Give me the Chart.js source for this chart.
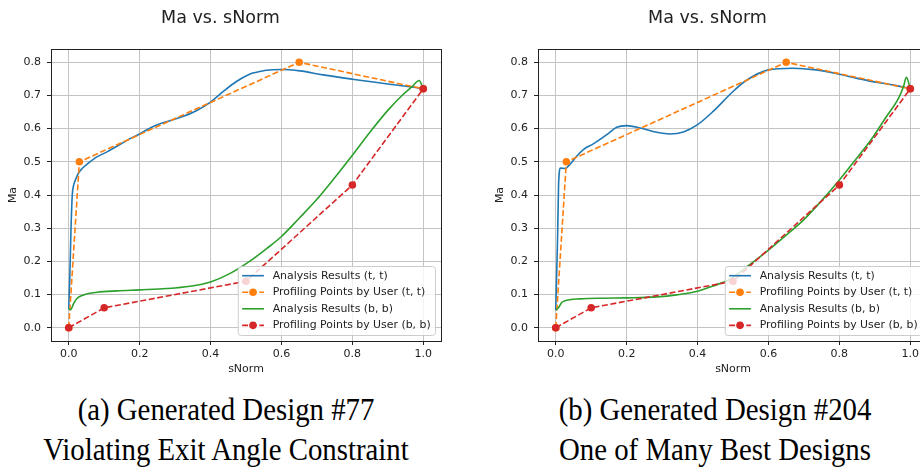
<!DOCTYPE html>
<html>
<head>
<meta charset="utf-8">
<script src="https://cdn.jsdelivr.net/npm/chart.js@4.4.1/dist/chart.umd.min.js"></script>
<style>
  html, body { margin: 0; padding: 0; background: #fff; width: 920px; height: 468px; overflow: hidden; }
  .plot { position: absolute; top: 0; width: 479px; height: 380px; }
  .caption { position: absolute; font-family: 'Liberation Serif', 'Times New Roman', serif; font-size: 32px; line-height: 40px; text-align: center; color: #000; white-space: nowrap; transform: scaleX(0.9); transform-origin: center top; }
</style>
</head>
<body>
<div class="plot" style="left:0"><canvas id="chart77" width="479" height="380"></canvas></div>
<div class="plot" style="left:487px"><canvas id="chart204" width="479" height="380"></canvas></div>
<div class="caption" style="left:0; width:452px; top:389px">(a) Generated Design #77<br>Violating Exit Angle Constraint</div>
<div class="caption" style="left:510px; width:410px; top:389px">(b) Generated Design #204<br>One of Many Best Designs</div>

<script>
// axis ticks
const xTicks = [0, 0.2, 0.4, 0.6, 0.8, 1.0];
const yTicks = [0, 0.1, 0.2, 0.3, 0.4, 0.5, 0.6, 0.7, 0.8];

// profiling points by user (same in both designs)
const userTopX = [0, 0.03, 0.65, 1.0];
const userTopY = [0, 0.5, 0.8, 0.72];
const userBotX = [0, 0.1, 0.5, 0.8, 1.0];
const userBotY = [0, 0.06, 0.14, 0.43, 0.72];

// design #77 analysis results
const d77TopX = [0, 0.003, 0.0065, 0.01, 0.014, 0.02, 0.028, 0.04, 0.052, 0.075, 0.108, 0.136, 0.173, 0.2, 0.23, 0.25, 0.286, 0.323, 0.36, 0.4, 0.436, 0.473, 0.51, 0.53, 0.558, 0.6, 0.652, 0.717, 0.8, 0.905, 0.99, 1.0];
const d77TopY = [0.057, 0.15, 0.3, 0.4, 0.43, 0.448, 0.467, 0.482, 0.493, 0.512, 0.53, 0.547, 0.57, 0.584, 0.602, 0.612, 0.624, 0.637, 0.654, 0.68, 0.712, 0.742, 0.764, 0.77, 0.776, 0.778, 0.774, 0.762, 0.749, 0.734, 0.722, 0.72];
const d77BotX = [0, 0.005, 0.014, 0.023, 0.042, 0.08, 0.136, 0.2, 0.276, 0.342, 0.4, 0.454, 0.51, 0.56, 0.6, 0.65, 0.7, 0.75, 0.8, 0.85, 0.9, 0.94, 0.97, 0.988, 1.0];
const d77BotY = [0.057, 0.054, 0.073, 0.088, 0.099, 0.107, 0.111, 0.114, 0.118, 0.125, 0.138, 0.163, 0.2, 0.24, 0.275, 0.33, 0.387, 0.452, 0.52, 0.59, 0.655, 0.7, 0.728, 0.745, 0.72];

// design #204 analysis results
const d204TopX = [0, 0.005, 0.008, 0.01, 0.013, 0.026, 0.04, 0.059, 0.078, 0.106, 0.144, 0.172, 0.2, 0.238, 0.285, 0.322, 0.36, 0.4, 0.444, 0.5, 0.537, 0.6, 0.668, 0.734, 0.8, 0.883, 0.949, 0.986, 1.0];
const d204TopY = [0.053, 0.26, 0.43, 0.468, 0.481, 0.48, 0.492, 0.517, 0.537, 0.554, 0.582, 0.604, 0.609, 0.602, 0.589, 0.584, 0.59, 0.612, 0.652, 0.712, 0.745, 0.777, 0.782, 0.777, 0.764, 0.744, 0.732, 0.724, 0.72];
const d204BotX = [0, 0.0075, 0.017, 0.031, 0.069, 0.134, 0.2, 0.285, 0.341, 0.4, 0.444, 0.491, 0.547, 0.6, 0.65, 0.7, 0.75, 0.8, 0.846, 0.893, 0.93, 0.967, 0.981, 0.989, 1.0];
const d204BotY = [0.053, 0.06, 0.076, 0.083, 0.087, 0.089, 0.09, 0.093, 0.099, 0.11, 0.126, 0.146, 0.19, 0.234, 0.279, 0.326, 0.383, 0.445, 0.507, 0.572, 0.632, 0.692, 0.727, 0.755, 0.72];

const BLUE = '#1f77b4', ORANGE = '#ff7f0e', GREEN = '#2ca02c', RED = '#d62728';
const TEXT = '#222', AXIS = '#222', GRID = '#c4c4c4';
const FAMILY = '"DejaVu Sans", sans-serif';
const DASH = [6, 2.6];

function pts(xs, ys) {
    return xs.map((x, i) => ({ x: x, y: ys[i] }));
}

// box around the axes + legend inside lower right, like matplotlib
const axesPlugin = {
    id: 'axesDecor',
    afterDatasetsDraw(chart) {
        const { ctx, chartArea: a } = chart;
        ctx.save();
        ctx.strokeStyle = AXIS;
        ctx.lineWidth = 1;
        ctx.strokeRect(a.left + 0.5, a.top + 0.5, a.right - a.left, a.bottom - a.top);
        ctx.restore();
    },
    afterDraw(chart) {
        const { ctx, chartArea: a } = chart;
        const fs = 10.9;
        const items = chart.data.datasets;
        ctx.save();
        ctx.font = fs + 'px ' + FAMILY;
        const textW = Math.max(...items.map(d => ctx.measureText(d.label).width));
        const pad = 0.4 * fs, handle = 2 * fs, gap = 0.8 * fs, rowH = 16.55;
        const w = pad + handle + gap + textW + pad, h = 69;
        const right = a.right - 6, bottom = a.bottom - 6;
        const left = right - w, top = bottom - h;

        ctx.beginPath();
        ctx.roundRect(left + 0.5, top + 0.5, w, h, 3);
        ctx.fillStyle = 'rgba(255,255,255,0.8)';
        ctx.fill();
        ctx.strokeStyle = '#cccccc';
        ctx.lineWidth = 1;
        ctx.stroke();

        items.forEach((d, i) => {
            const y = top + 9.7 + i * rowH;
            const x0 = left + pad;
            ctx.strokeStyle = d.borderColor;
            ctx.lineWidth = d.borderWidth;
            ctx.setLineDash(d.borderDash || []);
            ctx.beginPath();
            ctx.moveTo(x0, y);
            ctx.lineTo(x0 + handle, y);
            ctx.stroke();
            ctx.setLineDash([]);
            if (d.pointRadius > 0) {
                ctx.fillStyle = d.backgroundColor;
                ctx.beginPath();
                ctx.arc(x0 + handle / 2, y, d.pointRadius, 0, Math.PI * 2);
                ctx.fill();
            }
            ctx.fillStyle = TEXT;
            ctx.textBaseline = 'middle';
            ctx.textAlign = 'left';
            ctx.fillText(d.label, x0 + handle + gap, y);
        });
        ctx.restore();
    }
};

function makeChart(id, topX, topY, botX, botY) {
    const tickFont = { family: FAMILY, size: 11 };
    new Chart(document.getElementById(id), {
        type: 'scatter',
        data: {
            datasets: [{
                label: 'Analysis Results (t, t)',
                data: pts(topX, topY),
                showLine: true,
                borderColor: BLUE,
                backgroundColor: BLUE,
                borderWidth: 1.6,
                pointRadius: 0,
                cubicInterpolationMode: 'monotone',
                order: 3
            }, {
                label: 'Profiling Points by User (t, t)',
                data: pts(userTopX, userTopY),
                showLine: true,
                borderColor: ORANGE,
                backgroundColor: ORANGE,
                borderWidth: 1.6,
                borderDash: DASH,
                pointRadius: 3.8,
                pointBorderWidth: 0,
                order: 2
            }, {
                label: 'Analysis Results (b, b)',
                data: pts(botX, botY),
                showLine: true,
                borderColor: GREEN,
                backgroundColor: GREEN,
                borderWidth: 1.6,
                pointRadius: 0,
                cubicInterpolationMode: 'monotone',
                order: 1
            }, {
                label: 'Profiling Points by User (b, b)',
                data: pts(userBotX, userBotY),
                showLine: true,
                borderColor: RED,
                backgroundColor: RED,
                borderWidth: 1.6,
                borderDash: DASH,
                pointRadius: 3.8,
                pointBorderWidth: 0,
                order: 0
            }]
        },
        options: {
            responsive: false,
            animation: false,
            devicePixelRatio: 1,
            events: [],
            layout: { padding: { left: 0, right: 38, top: 0, bottom: 0 } },
            plugins: {
                legend: { display: false },
                tooltip: { enabled: false },
                title: {
                    display: true,
                    text: 'Ma vs. sNorm',
                    color: TEXT,
                    font: { family: FAMILY, size: 17.5, weight: 'normal', lineHeight: 1.2 },
                    padding: { top: 8, bottom: 20 }
                }
            },
            scales: {
                x: {
                    type: 'linear',
                    min: -0.05,
                    max: 1.05,
                    afterBuildTicks: s => { s.ticks = xTicks.map(v => ({ value: v })); },
                    afterFit: s => { s.height = 39; },
                    grid: { color: GRID, lineWidth: 1, tickColor: AXIS, tickLength: 4, tickWidth: 1 },
                    border: { display: false },
                    ticks: { color: TEXT, font: tickFont, padding: 3, maxRotation: 0, autoSkip: false, callback: v => v.toFixed(1) },
                    title: { display: true, text: 'sNorm', color: TEXT, font: tickFont, padding: { top: 0, bottom: 4 } }
                },
                y: {
                    type: 'linear',
                    min: -0.04,
                    max: 0.84,
                    afterBuildTicks: s => { s.ticks = yTicks.map(v => ({ value: v })); },
                    afterFit: s => { s.width = 51; },
                    grid: { color: GRID, lineWidth: 1, tickColor: AXIS, tickLength: 4, tickWidth: 1 },
                    border: { display: false },
                    ticks: { color: TEXT, font: tickFont, padding: 6, autoSkip: false, callback: v => v.toFixed(1) },
                    title: { display: true, text: 'Ma', color: TEXT, font: tickFont, padding: { top: 7, bottom: 0 } }
                }
            }
        },
        plugins: [axesPlugin]
    });
}

makeChart('chart77', d77TopX, d77TopY, d77BotX, d77BotY);
makeChart('chart204', d204TopX, d204TopY, d204BotX, d204BotY);
</script>
</body>
</html>
